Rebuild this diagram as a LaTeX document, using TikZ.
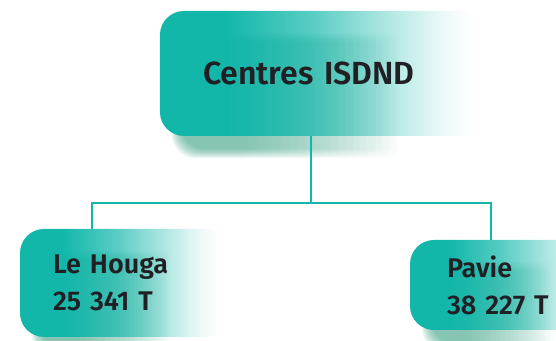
\documentclass[tikz,border=0pt]{standalone}
\usepackage{fontspec}
\setmainfont{Fira Sans}[UprightFont={* SemiBold}]
\usetikzlibrary{positioning,fadings,backgrounds,calc}
\definecolor{ISTeal}{RGB}{18,183,170}
\definecolor{ISShade}{RGB}{38,150,118}
\definecolor{ISInk}{RGB}{32,32,36}
\pgfdeclarehorizontalshading{boxfadeshading}{100bp}{color(0bp)=(pgftransparent!0); color(35bp)=(pgftransparent!0); color(48bp)=(pgftransparent!30); color(58bp)=(pgftransparent!62); color(67bp)=(pgftransparent!90); color(72bp)=(pgftransparent!100); color(100bp)=(pgftransparent!100)}
\pgfdeclarefading{boxfade}{\pgfuseshading{boxfadeshading}}
\pgfdeclarehorizontalshading{shadefadeshading}{100bp}{color(0bp)=(pgftransparent!0); color(36bp)=(pgftransparent!0); color(50bp)=(pgftransparent!50); color(62bp)=(pgftransparent!100); color(100bp)=(pgftransparent!100)}
\pgfdeclarefading{shadefade}{\pgfuseshading{shadefadeshading}}

\begin{document}
\begin{tikzpicture}[x=1pt,y=1pt,
  tealbox/.style={rounded corners=24pt,fill=ISTeal,path fading=boxfade,text=ISInk,align=left,inner xsep=0pt},
  link/.style={draw=ISTeal,line width=1.6pt}]
  \useasboundingbox (0,0) rectangle (556,340);
  \node[tealbox,minimum width=330pt,minimum height=125pt,text width=244pt,font=\fontsize{32}{32}\selectfont] (centres) at (325,266.5) {Centres ISDND};
  \node[tealbox,minimum width=210pt,minimum height=108pt,text width=144pt,font=\fontsize{27}{37}\selectfont] (houga) at (125,57) {Le Houga\\25 341 T};
  \node[tealbox,minimum width=200pt,minimum height=90pt,text width=126pt,font=\fontsize{27}{37}\selectfont] (pavie) at (510,55) {Pavie\\38 227 T};
  \coordinate (hub) at (311,137);
  \coordinate (leftdrop) at (92,137);
  \coordinate (rightdrop) at (491,137);
  \begin{scope}[on background layer]
    % soft shadows under the boxes
    \foreach \b in {centres,houga,pavie}
      \foreach \g in {0,...,9}
        \fill[ISShade,opacity=0.08,path fading=shadefade,rounded corners=24pt]
          ($(\b.south west)+(12+\g,-22+\g)$) rectangle ($(\b.north east)+(-8-\g,-22-\g)$);
    \draw[link] (centres.south -| hub) -- (hub);
    \draw[link] (houga.north -| leftdrop) -- (leftdrop) -- (rightdrop) -- (pavie.north -| rightdrop);
  \end{scope}
\end{tikzpicture}
\end{document}
